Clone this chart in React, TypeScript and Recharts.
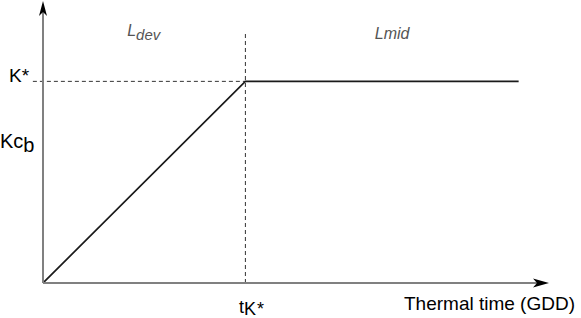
import React from 'react';
import { LineChart, Line, XAxis, YAxis, ReferenceLine, ReferenceDot } from 'recharts';

// Thermal time (arbitrary units, 0..100) and crop coefficient (arbitrary units, 0..100)
const thermalTime = [0, 40, 94];
const kcb = [0, 71.5, 71.5];
const tKStar = 40;
const kStar = 71.5;
const dashedTop = 89;
const domainMax = 100;

const data = thermalTime.map((t, i) => ({ t, kc: kcb[i] }));

const FONT = '"Liberation Sans", Arial, Helvetica, sans-serif';

const XArrow = (p: any) => {
  const { x1, y1, x2 } = p;
  const y = y1;
  return (
    <g>
      <line x1={x1} y1={y} x2={x2 - 12} y2={y} stroke="#808080" strokeWidth={2} />
      <polygon points={`${x2},${y} ${x2 - 16},${y - 4.5} ${x2 - 12},${y} ${x2 - 16},${y + 4.5}`} fill="#000" />
    </g>
  );
};

const YArrow = (p: any) => {
  const { x1, y1, y2 } = p;
  const x = x1;
  const top = Math.min(y1, y2);
  const bottom = Math.max(y1, y2);
  return (
    <g>
      <line x1={x} y1={bottom} x2={x} y2={top + 11} stroke="#808080" strokeWidth={2} />
      <polygon points={`${x},${top} ${x - 4},${top + 15} ${x},${top + 11} ${x + 4},${top + 15}`} fill="#000" />
    </g>
  );
};

const TextLabel = (props: any) => {
  const { viewBox, render } = props;
  if (!viewBox) return null;
  const cx = viewBox.x + (viewBox.width || 0) / 2;
  const cy = viewBox.y + (viewBox.height || 0) / 2;
  return render(cx, cy);
};

export default function App() {
  return (
    <div style={{ position: 'absolute', left: 0, top: 0, width: 581, height: 318 }}>
      <LineChart
        width={581}
        height={318}
        data={data}
        margin={{ top: 1, right: 32, bottom: 35, left: 43 }}
      >
        <XAxis type="number" dataKey="t" domain={[0, domainMax]} hide allowDataOverflow />
        <YAxis type="number" domain={[0, domainMax]} hide allowDataOverflow />

        <ReferenceLine
          segment={[{ x: -2, y: kStar }, { x: tKStar, y: kStar }]}
          stroke="#333"
          strokeWidth={1}
          strokeDasharray="4 3"
          ifOverflow="visible"
        />
        <ReferenceLine
          segment={[{ x: tKStar, y: 0 }, { x: tKStar, y: dashedTop }]}
          stroke="#333"
          strokeWidth={1}
          strokeDasharray="4 3"
          ifOverflow="visible"
        />

        <Line
          type="linear"
          dataKey="kc"
          stroke="#1a1a1a"
          strokeWidth={1.7}
          dot={false}
          activeDot={false}
          isAnimationActive={false}
        />

        <ReferenceLine
          segment={[{ x: 0, y: 0 }, { x: domainMax, y: 0 }]}
          ifOverflow="visible"
          shape={(p: any) => <XArrow {...p} />}
        />
        <ReferenceLine
          segment={[{ x: 0, y: 0 }, { x: 0, y: domainMax }]}
          ifOverflow="visible"
          shape={(p: any) => <YArrow {...p} />}
        />

        <ReferenceDot
          x={0}
          y={kStar}
          r={0}
          fill="none"
          stroke="none"
          ifOverflow="visible"
          label={
            <TextLabel
              render={(cx: number, cy: number) => (
                <text x={cx - 34} y={cy + 1} fontFamily={FONT} fontSize={19} fill="#000">
                  K*
                </text>
              )}
            />
          }
        />
        <ReferenceDot
          x={0}
          y={48}
          r={0}
          fill="none"
          stroke="none"
          ifOverflow="visible"
          label={
            <TextLabel
              render={(cx: number, cy: number) => (
                <text x={cx - 43} y={cy + 0.5} fontFamily={FONT} fontSize={20} fill="#000">
                  Kc<tspan dy={4}>b</tspan>
                </text>
              )}
            />
          }
        />
        <ReferenceDot
          x={tKStar / 2}
          y={domainMax}
          r={0}
          fill="none"
          stroke="none"
          ifOverflow="visible"
          label={
            <TextLabel
              render={(cx: number, cy: number) => (
                <text x={cx - 17} y={cy + 35} fontFamily={FONT} fontStyle="italic" fontSize={16} fill="#555">
                  L<tspan fontSize={15} dy={4}>dev</tspan>
                </text>
              )}
            />
          }
        />
        <ReferenceDot
          x={69}
          y={domainMax}
          r={0}
          fill="none"
          stroke="none"
          ifOverflow="visible"
          label={
            <TextLabel
              render={(cx: number, cy: number) => (
                <text x={cx} y={cy + 38} textAnchor="middle" fontFamily={FONT} fontStyle="italic" fontSize={16} fill="#555">
                  Lmid
                </text>
              )}
            />
          }
        />
        <ReferenceDot
          x={tKStar}
          y={0}
          r={0}
          fill="none"
          stroke="none"
          ifOverflow="visible"
          label={
            <TextLabel
              render={(cx: number, cy: number) => (
                <text x={cx - 6.5} y={cy + 30} fontFamily={FONT} fontSize={18} fill="#000">
                  t<tspan fontSize={18} dy={2} letterSpacing={1}>K*</tspan>
                </text>
              )}
            />
          }
        />
        <ReferenceDot
          x={domainMax}
          y={0}
          r={0}
          fill="none"
          stroke="none"
          ifOverflow="visible"
          label={
            <TextLabel
              render={(cx: number, cy: number) => (
                <text x={cx + 26} y={cy + 27} textAnchor="end" fontFamily={FONT} fontSize={19} fill="#000">
                  Thermal time (GDD)
                </text>
              )}
            />
          }
        />
      </LineChart>
    </div>
  );
}
